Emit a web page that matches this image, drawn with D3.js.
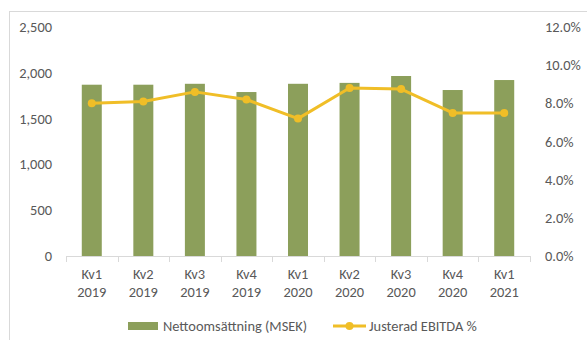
<!DOCTYPE html>
<html>
<head>
<meta charset="utf-8">
<script src="https://cdn.jsdelivr.net/npm/d3@7"></script>
<style>
  html, body { margin: 0; padding: 0; background: #fff; }
  svg { display: block; }
  text { font-family: Carlito, Calibri, Lato, "Liberation Sans", sans-serif; fill: #595959; }
</style>
</head>
<body>
<svg id="chart" width="587" height="340"></svg>
<script>
// Quarterly figures
const quarters = ["Kv1", "Kv2", "Kv3", "Kv4", "Kv1", "Kv2", "Kv3", "Kv4", "Kv1"];
const years = ["2019", "2019", "2019", "2019", "2020", "2020", "2020", "2020", "2021"];
const netSales = [1870, 1870, 1880, 1790, 1880, 1890, 1965, 1812, 1921];      // MSEK
const ebitdaPct = [8.0, 8.1, 8.6, 8.2, 7.2, 8.8, 8.75, 7.5, 7.5];              // %
const leftTicks = [0, 500, 1000, 1500, 2000, 2500];
const rightTicks = [0, 2, 4, 6, 8, 10, 12];
const seriesNames = ["Nettoomsättning (MSEK)", "Justerad EBITDA %"];

const barColor = "#8c9f5b";
const lineColor = "#f0be27";
const axisColor = "#d9d9d9";
const fontSize = 14.4;

const svg = d3.select("#chart");

// Outer frame of the chart area
svg.append("rect")
  .attr("x", 9.5).attr("y", 11.5)
  .attr("width", 600).attr("height", 400)
  .attr("fill", "none").attr("stroke", "#d9d9d9");

const plot = { left: 66, right: 530, top: 27, bottom: 256 };
const keys = quarters.map((q, i) => i);

const x = d3.scaleBand().domain(keys).range([plot.left, plot.right]).paddingInner(0).paddingOuter(0);
const yL = d3.scaleLinear().domain([0, 2500]).range([plot.bottom, plot.top]);
const yR = d3.scaleLinear().domain([0, 12]).range([plot.bottom, plot.top]);

const fmtL = d3.format(",");
const fmtR = d => d3.format(".1f")(d) + "%";

// Left axis labels
svg.append("g").selectAll("text").data(leftTicks).join("text")
  .attr("x", 52).attr("y", d => yL(d))
  .attr("dy", "0.35em").attr("text-anchor", "end")
  .attr("font-size", fontSize)
  .text(fmtL);

// Right axis labels
svg.append("g").selectAll("text").data(rightTicks).join("text")
  .attr("x", 545).attr("y", d => yR(d))
  .attr("dy", "0.35em").attr("text-anchor", "start")
  .attr("font-size", fontSize)
  .text(fmtR);

// Bars
const barW = 20;
svg.append("g").selectAll("rect").data(netSales).join("rect")
  .attr("x", (d, i) => x(i) + x.bandwidth() / 2 - barW / 2)
  .attr("y", d => yL(d))
  .attr("width", barW)
  .attr("height", d => yL(0) - yL(d))
  .attr("fill", barColor);

// Category axis line and tick marks at band boundaries
const axisG = svg.append("g");
axisG.append("line")
  .attr("x1", plot.left).attr("x2", plot.right)
  .attr("y1", plot.bottom + 0.5).attr("y2", plot.bottom + 0.5)
  .attr("stroke", axisColor);
const bounds = keys.map(i => x(i)).concat([plot.right]);
axisG.selectAll("line.tick").data(bounds).join("line")
  .attr("class", "tick")
  .attr("x1", d => Math.round(d) + 0.5).attr("x2", d => Math.round(d) + 0.5)
  .attr("y1", plot.bottom).attr("y2", plot.bottom + 6)
  .attr("stroke", axisColor);

// Category labels (two lines)
const catG = svg.append("g");
catG.selectAll("text.q").data(quarters).join("text")
  .attr("class", "q")
  .attr("x", (d, i) => x(i) + x.bandwidth() / 2)
  .attr("y", 274).attr("dy", "0.35em")
  .attr("text-anchor", "middle").attr("font-size", fontSize)
  .text(d => d);
catG.selectAll("text.yr").data(years).join("text")
  .attr("class", "yr")
  .attr("x", (d, i) => x(i) + x.bandwidth() / 2)
  .attr("y", 292).attr("dy", "0.35em")
  .attr("text-anchor", "middle").attr("font-size", fontSize)
  .text(d => d);

// EBITDA line with markers
const line = d3.line()
  .x((d, i) => x(i) + x.bandwidth() / 2)
  .y(d => yR(d));
svg.append("path")
  .datum(ebitdaPct)
  .attr("d", line)
  .attr("fill", "none")
  .attr("stroke", lineColor)
  .attr("stroke-width", 3)
  .attr("stroke-linejoin", "round");
svg.append("g").selectAll("circle").data(ebitdaPct).join("circle")
  .attr("cx", (d, i) => x(i) + x.bandwidth() / 2)
  .attr("cy", d => yR(d))
  .attr("r", 4)
  .attr("fill", lineColor);

// Legend
const legY = 326;
const leg = svg.append("g");
leg.append("rect")
  .attr("x", 128).attr("y", legY - 4)
  .attr("width", 30).attr("height", 8)
  .attr("fill", barColor);
leg.append("text")
  .attr("x", 163).attr("y", legY).attr("dy", "0.35em")
  .attr("font-size", fontSize)
  .text(seriesNames[0]);
leg.append("line")
  .attr("x1", 333).attr("x2", 366)
  .attr("y1", legY).attr("y2", legY)
  .attr("stroke", lineColor).attr("stroke-width", 3);
leg.append("circle")
  .attr("cx", 349.5).attr("cy", legY).attr("r", 4)
  .attr("fill", lineColor);
leg.append("text")
  .attr("x", 369).attr("y", legY).attr("dy", "0.35em")
  .attr("font-size", fontSize)
  .text(seriesNames[1]);
</script>
</body>
</html>
